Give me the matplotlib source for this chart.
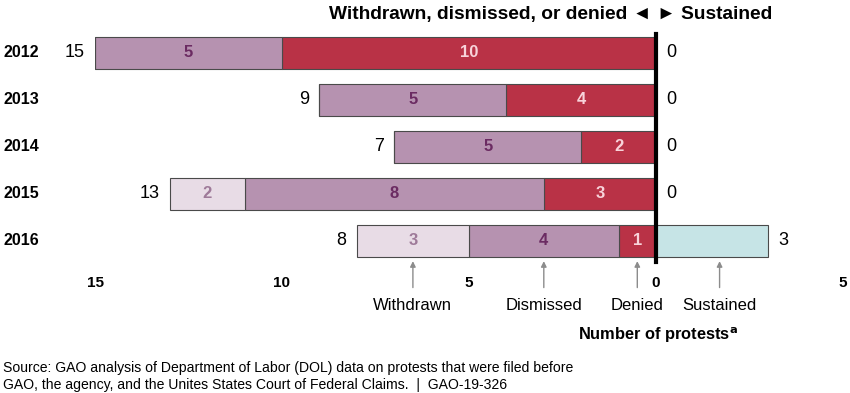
import matplotlib.pyplot as plt
import numpy as np

plt.rcParams['font.family'] = ['Liberation Sans', 'DejaVu Sans']

years = ["2012", "2013", "2014", "2015", "2016"]
withdrawn = [0, 0, 0, 2, 3]
dismissed = [5, 5, 5, 8, 4]
denied = [10, 4, 2, 3, 1]
sustained = [0, 0, 0, 0, 3]
tick_vals = [-15, -10, -5, 0, 5]
tick_labels = ["15", "10", "5", "0", "5"]

c_wd = "#E8DCE6"
c_dm = "#B692B0"
c_dn = "#B93246"
c_su = "#C6E4E6"
t_wd = "#9E7A99"
t_dm = "#6B2B62"
t_dn = "#F8D3DA"

fig = plt.figure(figsize=(8.5, 3.93), dpi=100)
ax = fig.add_axes([95 / 850, 1 - 262 / 393, (843 - 95) / 850, (262 - 30) / 393])

y = np.arange(len(years))
wd = np.array(withdrawn)
dm = np.array(dismissed)
dn = np.array(denied)
su = np.array(sustained)
h = 0.7
ec = "#4a4a4a"

ax.barh(y, -dn, height=h, color=c_dn, edgecolor=ec, lw=0.8)
ax.barh(y, -dm, left=-dn, height=h, color=c_dm, edgecolor=ec, lw=0.8)
ax.barh(y, -wd, left=-dn - dm, height=h, color=c_wd, edgecolor=ec, lw=0.8)
ax.barh(y, su, height=h, color=c_su, edgecolor=ec, lw=0.8)

# segment labels, totals and year labels
for i in range(len(years)):
    segs = [(dn[i], 0, t_dn), (dm[i], dn[i], t_dm), (wd[i], dn[i] + dm[i], t_wd)]
    for val, start, col in segs:
        if val > 0:
            ax.text(-(start + val / 2), y[i], str(val), ha="center", va="center",
                    fontsize=12, fontweight="bold", color=col)
    total = wd[i] + dm[i] + dn[i]
    ax.text(-total - 0.27, y[i], str(total), ha="right", va="center", fontsize=13)
    ax.text(su[i] + 0.27, y[i], str(su[i]), ha="left", va="center", fontsize=13)
    ax.text(-17.45, y[i], years[i], ha="left", va="center", fontsize=11.5,
            fontweight="bold")

ax.plot([0, 0], [-0.4, 4.45], color="black", lw=3, clip_on=False, zorder=5)

ax.set_xlim(-15, 5)
ax.set_ylim(4.447, -0.489)
ax.set_xticks(tick_vals)
ax.set_xticklabels(tick_labels, fontweight="bold", fontsize=11)
ax.tick_params(axis="x", length=0, pad=10)
ax.set_yticks([])
for s in ax.spines.values():
    s.set_visible(False)

# category callouts
callouts = [("Withdrawn", -6.5), ("Dismissed", -3.0), ("Denied", -0.5),
            ("Sustained", 1.7)]
for name, xv in callouts:
    ax.annotate("", xy=(xv, 4.37), xytext=(xv, 5.05),
                arrowprops=dict(arrowstyle="-|>", color="#8c8c8c", lw=1,
                                mutation_scale=8),
                annotation_clip=False)
    ax.text(xv, 5.38, name, ha="center", va="center", fontsize=12)

ax.text(0.05, 6.0, "Number of protests$^{\\mathbf{a}}$", ha="center", va="center",
        fontsize=11.8, fontweight="bold")

fig.text(772 / 850, 1 - 15 / 393, "Withdrawn, dismissed, or denied \u25c4 \u25ba Sustained",
         ha="right", va="center", fontsize=13.8, fontweight="bold")

fig.text(3 / 850, 1 - 368 / 393,
         "Source: GAO analysis of Department of Labor (DOL) data on protests that were filed before",
         ha="left", va="center", fontsize=10.1)
fig.text(3 / 850, 1 - 385 / 393,
         "GAO, the agency, and the Unites States Court of Federal Claims.  |  GAO-19-326",
         ha="left", va="center", fontsize=10.1)

fig.savefig("out.png", dpi=100)
